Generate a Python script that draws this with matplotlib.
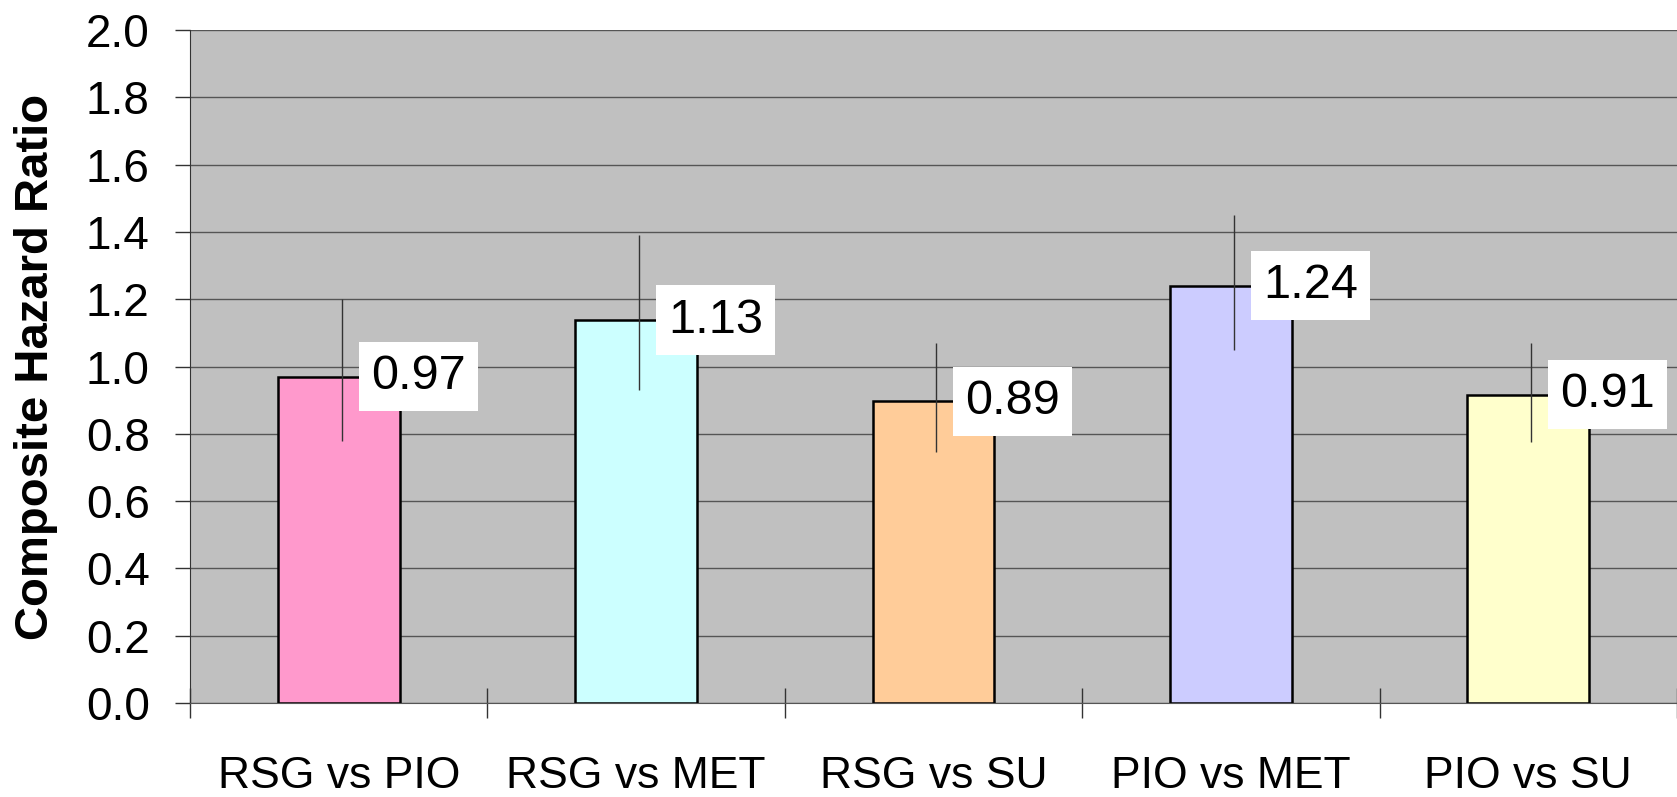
import numpy as np
import matplotlib
matplotlib.use('Agg')
import matplotlib.pyplot as plt

# Data
categories = ['RSG vs PIO', 'RSG vs MET', 'RSG vs SU', 'PIO vs MET', 'PIO vs SU']
hazard_ratio = [0.97, 1.13, 0.89, 1.24, 0.91]
bar_heights = [0.97, 1.138, 0.897, 1.24, 0.916]
ci_low = [0.78, 0.93, 0.745, 1.05, 0.775]
ci_high = [1.20, 1.39, 1.07, 1.45, 1.07]
bar_colors = ['#FF99CC', '#CCFFFF', '#FFCC99', '#CCCCFF', '#FFFFCC']

plt.rcParams['font.family'] = ['Liberation Sans', 'DejaVu Sans']

fig = plt.figure(figsize=(16.77, 7.97), dpi=100)
ax = fig.add_axes([0.1133, 0.1179, 0.8867, 0.8445])

x = np.arange(len(categories)) + 0.5
ax.set_facecolor('#C0C0C0')
ax.set_axisbelow(True)
ax.grid(axis='y', color='#555555', linewidth=1.0)

ax.bar(x, bar_heights, width=0.41, color=bar_colors, edgecolor='black',
       linewidth=1.8, zorder=2)

# confidence intervals, drawn as plain vertical lines
ax.vlines(x + 0.01, ci_low, ci_high, color='#333333', linewidth=1.0, zorder=3)

for xi, h, v in zip(x, bar_heights, hazard_ratio):
  ax.annotate(f'{v:.2f}', xy=(xi, h), xytext=(32, 0), textcoords='offset pixels',
              ha='left', va='center', fontsize=35, zorder=4,
              bbox=dict(boxstyle='square,pad=0.25', facecolor='white', edgecolor='none'))

ax.set_xlim(0, len(categories))
ax.set_ylim(0, 2.0)
ticks = np.arange(0, 2.01, 0.2)
ax.set_yticks(ticks)
ax.set_yticklabels([f'{t:.1f}' for t in ticks], fontsize=33)
ax.tick_params(axis='y', direction='out', length=11, width=1, pad=18, color='#333333')

ax.set_xticks(np.arange(len(categories) + 1))
ax.set_xticklabels([])
ax.tick_params(axis='x', which='major', direction='inout', length=22, width=1, color='#333333')
ax.set_xticks(x, minor=True)
ax.set_xticklabels(categories, minor=True, fontsize=32)
ax.tick_params(axis='x', which='minor', length=0, pad=38)

for side in ['top', 'right']:
  ax.spines[side].set_visible(False)
ax.spines['left'].set_color('#333333')
ax.spines['bottom'].set_color('#555555')

ax.set_ylabel('Composite Hazard Ratio', fontsize=34, fontweight='bold', labelpad=20)

fig.savefig('out.png', dpi=100)
